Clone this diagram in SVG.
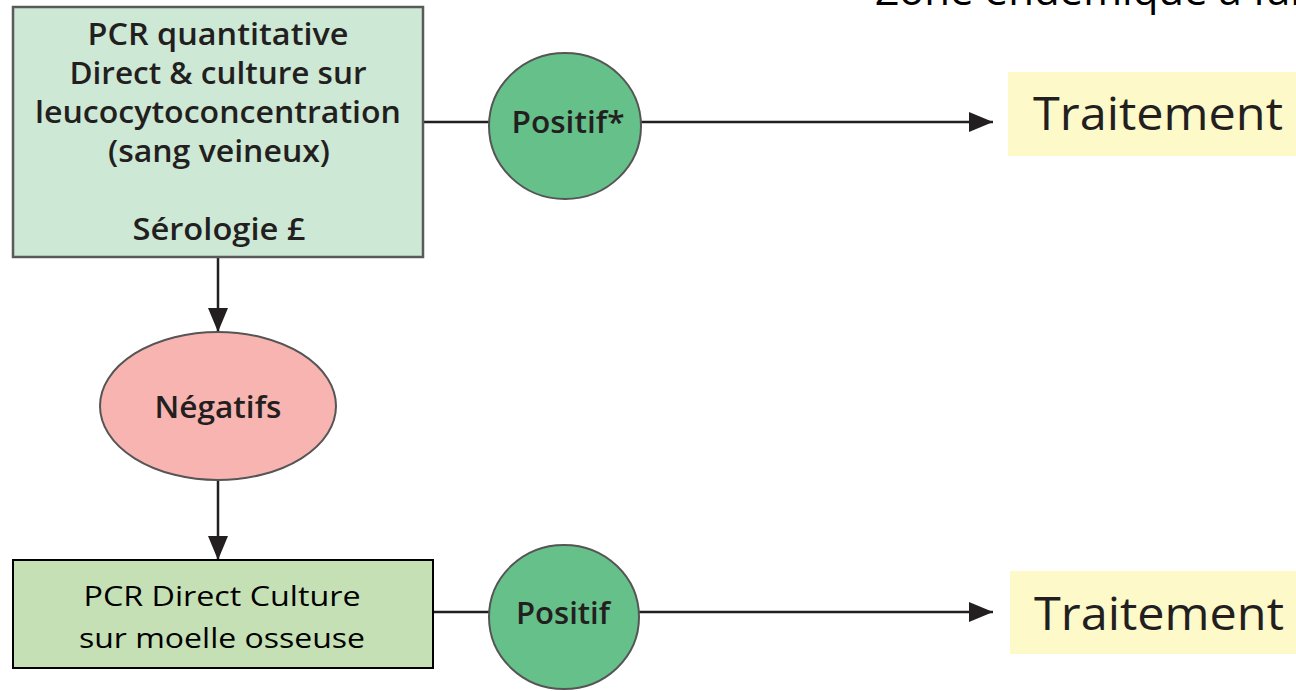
<svg xmlns="http://www.w3.org/2000/svg" width="1296" height="691" viewBox="0 0 1296 691">
<defs>
<marker id="arr" viewBox="0 0 24 20" refX="24" refY="10" markerWidth="24" markerHeight="20" markerUnits="userSpaceOnUse" orient="auto">
<path d="M0,0 L24,10 L0,20 Z" fill="#231f20"/>
</marker>
<style>
.t{font-family:"Open Sans","Noto Sans",sans-serif;fill:#231f20;text-anchor:middle}
.sb{font-weight:600;font-size:31px}
.tr{font-size:45px;font-weight:400}
.cal{font-family:"Open Sans","Liberation Sans",sans-serif;font-size:28px;fill:#000;text-anchor:middle}
.ln{stroke:#231f20;stroke-width:2.5;fill:none}
.ell{stroke:#555;stroke-width:2}
</style>
</defs>
<rect width="1296" height="691" fill="#fff"/>
<text x="875" y="5" style="font-family:'Open Sans',sans-serif;font-size:42px;fill:#000">Zone endémique à faible</text>
<g id="connectors">
<line class="ln" x1="423" y1="122" x2="489" y2="122"/>
<line class="ln" x1="641" y1="122" x2="993" y2="122" marker-end="url(#arr)"/>
<line class="ln" x1="218" y1="257" x2="218" y2="332" marker-end="url(#arr)"/>
<line class="ln" x1="218" y1="480" x2="218" y2="560" marker-end="url(#arr)"/>
<line class="ln" x1="433" y1="612" x2="489" y2="612"/>
<line class="ln" x1="639" y1="612" x2="993" y2="612" marker-end="url(#arr)"/>
</g>
<g id="box1">
<rect x="13" y="7" width="410" height="250" fill="#cde8d5" stroke="#5a5a5a" stroke-width="2.5"/>
<text class="t sb" x="218" y="45" textLength="261" lengthAdjust="spacingAndGlyphs">PCR quantitative</text>
<text class="t sb" x="218" y="84" textLength="297" lengthAdjust="spacingAndGlyphs">Direct &amp; culture sur</text>
<text class="t sb" x="218" y="123" textLength="366" lengthAdjust="spacingAndGlyphs">leucocytoconcentration</text>
<text class="t sb" x="219" y="162" textLength="222" lengthAdjust="spacingAndGlyphs">(sang veineux)</text>
<text class="t sb" x="219" y="240" textLength="173" lengthAdjust="spacingAndGlyphs">Sérologie £</text>
</g>
<g id="positif1">
<ellipse class="ell" cx="565" cy="126" rx="76" ry="73" fill="#66c08a"/>
<text class="t sb" x="568" y="133" textLength="113" lengthAdjust="spacingAndGlyphs">Positif*</text>
</g>
<g id="traitement1">
<rect x="1008" y="72" width="288" height="84" fill="#fdf9c8"/>
<text class="t tr" x="1158" y="130" textLength="250" lengthAdjust="spacingAndGlyphs">Traitement</text>
</g>
<g id="negatifs">
<ellipse class="ell" cx="218" cy="406" rx="118" ry="74" fill="#f8b4b1"/>
<text class="t sb" x="218" y="418" textLength="127" lengthAdjust="spacingAndGlyphs">Négatifs</text>
</g>
<g id="box2">
<rect x="13" y="560" width="420" height="108" fill="#c5e0b4" stroke="#000" stroke-width="2"/>
<text class="cal" x="222" y="606" textLength="277" lengthAdjust="spacingAndGlyphs">PCR Direct Culture</text>
<text class="cal" x="222" y="648" textLength="286" lengthAdjust="spacingAndGlyphs">sur moelle osseuse</text>
</g>
<g id="positif2">
<ellipse class="ell" cx="564" cy="617" rx="75" ry="72" fill="#66c08a"/>
<text class="t sb" x="563" y="624" textLength="94" lengthAdjust="spacingAndGlyphs">Positif</text>
</g>
<g id="traitement2">
<rect x="1010" y="571" width="286" height="83" fill="#fdf9c8"/>
<text class="t tr" x="1159" y="630" textLength="250" lengthAdjust="spacingAndGlyphs">Traitement</text>
</g>
</svg>
